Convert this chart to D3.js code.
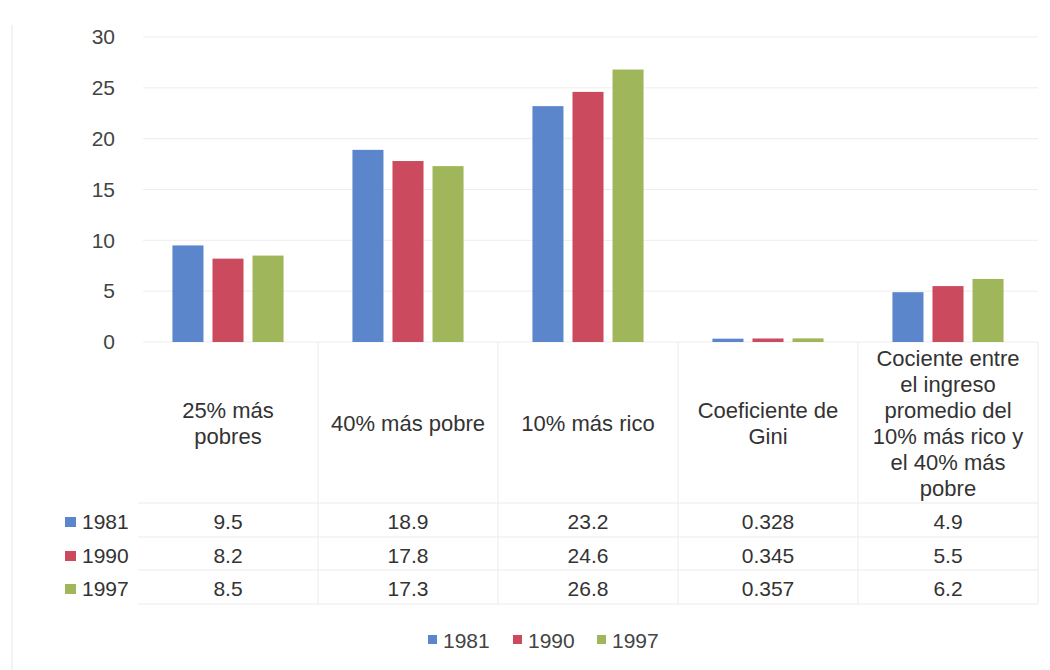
<!DOCTYPE html>
<html><head><meta charset="utf-8">
<script src="https://cdn.jsdelivr.net/npm/d3@7"></script>
<style>body{margin:0;background:#fff}svg{display:block;font-family:"Liberation Sans",Arial,sans-serif}</style>
</head><body><svg id="c" width="1050" height="670"></svg>
<script>
const categories = [["25% más","pobres"],["40% más pobre"],["10% más rico"],["Coeficiente de","Gini"],["Cociente entre","el ingreso","promedio del","10% más rico y","el 40% más","pobre"]];
const seriesNames = ["1981","1990","1997"];
const v1981 = [9.5, 18.9, 23.2, 0.328, 4.9];
const v1990 = [8.2, 17.8, 24.6, 0.345, 5.5];
const v1997 = [8.5, 17.3, 26.8, 0.357, 6.2];
const labels1981 = ["9.5","18.9","23.2","0.328","4.9"];
const labels1990 = ["8.2","17.8","24.6","0.345","5.5"];
const labels1997 = ["8.5","17.3","26.8","0.357","6.2"];
const yTicks = [0,5,10,15,20,25,30];
const colors = ["#5b86cb","#cc4a5e","#9fb75a"];

const values = [v1981, v1990, v1997];
const rowLabels = [labels1981, labels1990, labels1997];
const svg = d3.select("#c");
const txt = "#333";

const x = d3.scaleBand().domain(d3.range(categories.length)).range([138,1038]).paddingInner(0).paddingOuter(0);
const xs = d3.scaleBand().domain(d3.range(3)).range([0,x.bandwidth()]).paddingInner(0.225).paddingOuter(0.86);
const y = d3.scaleLinear().domain([0,30]).range([342,37]);

// outer border
svg.append("line").attr("x1",12).attr("x2",12).attr("y1",25).attr("y2",670).attr("stroke","#e6e6e6");

// gridlines
svg.append("g").selectAll("line").data(yTicks).join("line")
  .attr("x1",143).attr("x2",1038).attr("y1",d=>y(d)).attr("y2",d=>y(d))
  .attr("stroke","#ededed").attr("stroke-width",1);

// y axis labels
const yAxis = d3.axisLeft(y).tickValues(yTicks).tickSize(0).tickPadding(0);
const ga = svg.append("g").attr("transform","translate(115,0)").call(yAxis);
ga.select(".domain").remove();
ga.selectAll("text").attr("font-size",21).attr("fill","#444").attr("font-family","Liberation Sans, Arial, sans-serif");

// bars
values.forEach((vals,si)=>{
  svg.append("g").selectAll("rect").data(vals).join("rect")
    .attr("x",(d,i)=>x(i)+xs(si)).attr("width",xs.bandwidth())
    .attr("y",d=>y(d)).attr("height",d=>y(0)-y(d))
    .attr("fill",colors[si]);
});

// table grid
const tbl = svg.append("g").attr("stroke","#ebebeb").attr("stroke-width",1);
const rowEdges = [503,537,570,604];
d3.range(1,categories.length+1).forEach(i=>{
  const xx = i<categories.length ? x(i) : 1038;
  tbl.append("line").attr("x1",xx).attr("x2",xx).attr("y1",342).attr("y2",604);
});
rowEdges.forEach(yy=>tbl.append("line").attr("x1",138).attr("x2",1038).attr("y1",yy).attr("y2",yy));

// headers
const hg = svg.append("g").attr("fill",txt).attr("font-size",22).attr("text-anchor","middle");
categories.forEach((lines,i)=>{
  const n = lines.length;
  const first = 431 - (n-1)*13;
  const t = hg.append("text").attr("x",x(i)+x.bandwidth()/2);
  lines.forEach((l,j)=>t.append("tspan").attr("x",x(i)+x.bandwidth()/2).attr("y",first+j*26).text(l));
});

// rows
const rowY = [529,563,596];
rowLabels.forEach((labs,si)=>{
  const g = svg.append("g");
  g.append("rect").attr("x",65).attr("y",rowY[si]-12).attr("width",11).attr("height",10).attr("fill",colors[si]);
  g.append("text").attr("x",82).attr("y",rowY[si]).attr("font-size",21).attr("fill",txt).text(seriesNames[si]);
  g.selectAll("text.v").data(labs).join("text").attr("class","v")
    .attr("x",(d,i)=>x(i)+x.bandwidth()/2).attr("y",rowY[si])
    .attr("text-anchor","middle").attr("font-size",21).attr("fill",txt).text(d=>d);
});

// bottom legend
const lx = [428,513,597];
seriesNames.forEach((s,si)=>{
  svg.append("rect").attr("x",lx[si]).attr("y",635).attr("width",9).attr("height",9).attr("fill",colors[si]);
  svg.append("text").attr("x",lx[si]+15).attr("y",648).attr("font-size",21).attr("fill","#444").text(s);
});
</script></body></html>
